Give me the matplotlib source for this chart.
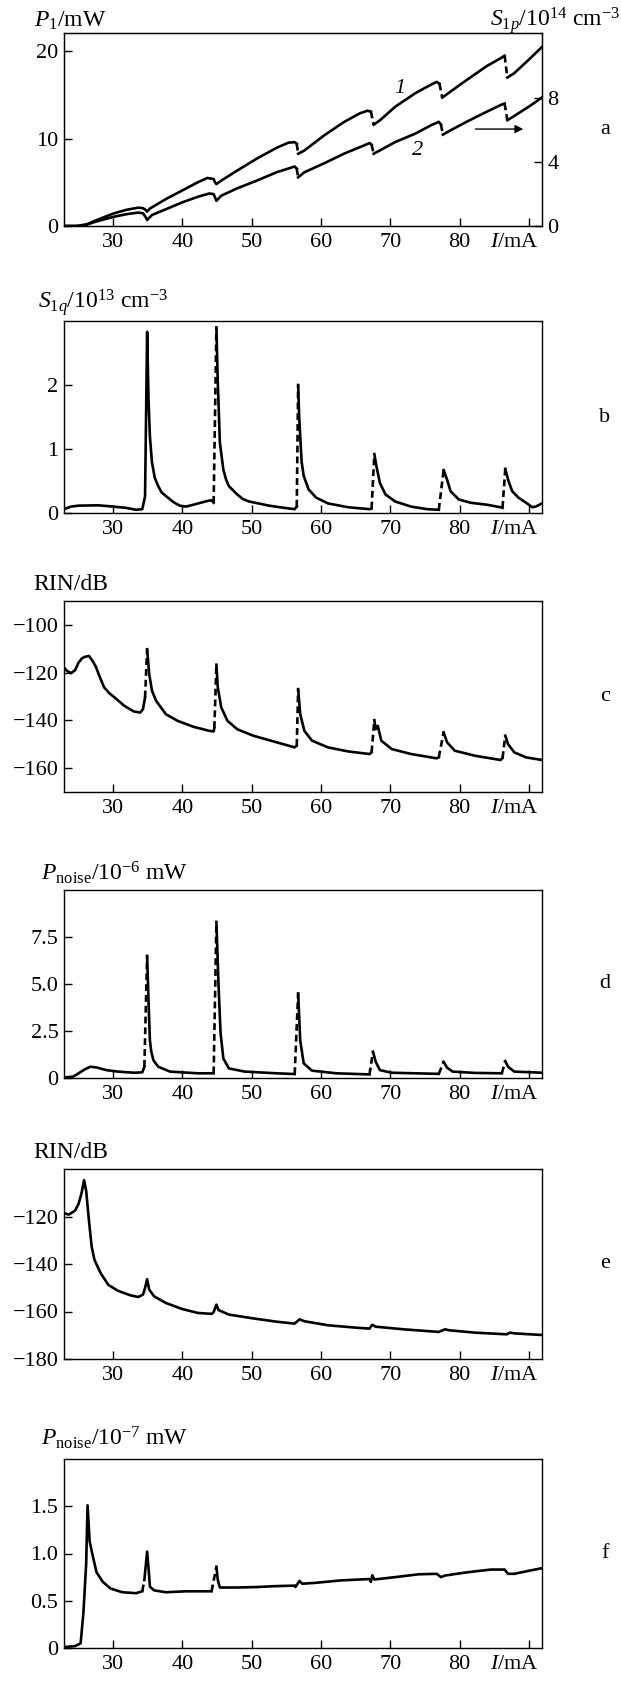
import numpy as np
import matplotlib
matplotlib.use("Agg")
import matplotlib.pyplot as plt

plt.rcParams["font.family"] = ["Liberation Serif", "DejaVu Serif"]
plt.rcParams["mathtext.fontset"] = "custom"
plt.rcParams["mathtext.rm"] = "Liberation Serif"
plt.rcParams["mathtext.it"] = "Liberation Serif:italic"
plt.rcParams["font.size"] = 16

# ---- data (I in mA) ----
# panel a, curve 1: P1 in mW (left axis)
a1_x = [22.9, 24.7, 26.2, 27.9, 30.0, 31.9, 33.6, 34.3, 34.6, 34.9, 35.3, 37.6, 39.9,
        42.2, 43.6, 44.5, 44.7, 44.9, 45.6, 47.9, 50.7, 53.6, 55.3, 56.2, 56.5, 56.7,
        57.6, 60.5, 63.3, 65.6, 66.7, 67.2, 67.6, 68.5, 70.7, 73.6, 75.9, 76.7, 77.1,
        77.5, 78.7, 81.0, 83.9, 85.9, 86.5, 86.9, 87.9, 90.2, 91.9]
a1_y = [0, 0, 0.2, 0.77, 1.42, 1.85, 2.1, 2.04, 1.9, 1.65, 2.0, 3.08, 4.04,
        5.0, 5.5, 5.38, 5.0, 4.8, 5.2, 6.35, 7.7, 8.96, 9.54, 9.6, 9.42, 8.27,
        8.65, 10.4, 11.9, 12.9, 13.2, 13.1, 11.6, 12.1, 13.65, 15.2, 16.2, 16.5, 16.3,
        14.7, 15.4, 16.7, 18.3, 19.2, 19.5, 17.0, 17.5, 19.2, 20.5]
a1_jumps = [56.5, 67.2, 77.1, 86.5]

# panel a, curve 2: S1p in 1e14 cm^-3 (right axis)
a2_x = [22.9, 25.6, 27.3, 30.0, 31.9, 33.6, 34.3, 34.7, 34.9, 35.6, 37.6, 39.9, 42.2,
        43.9, 44.5, 44.9, 45.6, 47.9, 50.7, 53.6, 56.2, 56.5, 56.7, 57.6, 60.5, 63.3,
        66.2, 67.0, 67.3, 67.6, 68.5, 70.7, 73.6, 75.9, 77.0, 77.3, 77.6, 78.7, 81.0,
        83.9, 85.9, 86.5, 86.9, 87.9, 90.2, 91.9]
a2_y = [0, 0, 0.25, 0.57, 0.74, 0.84, 0.8, 0.55, 0.38, 0.69, 1.05, 1.47, 1.83,
        2.04, 2.0, 1.58, 1.9, 2.36, 2.84, 3.37, 3.73, 3.6, 3.05, 3.37, 3.94, 4.53,
        5.05, 5.2, 5.1, 4.53, 4.74, 5.26, 5.79, 6.32, 6.53, 6.37, 5.73, 6.0, 6.53,
        7.16, 7.58, 7.68, 6.63, 6.9, 7.54, 8.06]
a2_jumps = [56.5, 67.3, 77.3, 86.5]

# panel b: S1q in 1e13 cm^-3
b_x = [22.9, 23.9, 25.0, 27.9, 30.0, 31.9, 33.3, 34.2, 34.6, 34.9, 35.1, 35.3, 35.6,
       36.0, 36.5, 37.0, 37.9, 38.7, 39.6, 40.5, 41.6, 43.3, 44.2, 44.5, 44.9, 45.1,
       45.4, 45.9, 46.3, 46.7, 47.9, 48.7, 49.6, 52.5, 54.7, 56.2, 56.5, 56.7, 56.85,
       57.2, 57.5, 58.2, 59.3, 61.0, 63.9, 67.0, 67.3, 67.7, 68.0, 68.5, 69.3, 70.7,
       73.0, 75.3, 77.0, 77.7, 78.2, 78.7, 79.9, 81.6, 83.9, 85.9, 86.2, 86.6, 87.0,
       87.6, 88.5, 89.6, 90.5, 91.0, 91.9]
b_y = [0.06, 0.1, 0.115, 0.12, 0.1, 0.08, 0.05, 0.06, 0.26, 2.83, 1.78, 1.2, 0.79,
       0.55, 0.42, 0.32, 0.24, 0.17, 0.115, 0.1, 0.13, 0.18, 0.2, 0.16, 2.9, 2.04,
       1.1, 0.68, 0.52, 0.42, 0.29, 0.22, 0.18, 0.115, 0.08, 0.06, 0.1, 2.0, 1.5,
       0.8, 0.58, 0.37, 0.24, 0.15, 0.09, 0.06, 0.07, 0.92, 0.73, 0.47, 0.29, 0.18,
       0.1, 0.06, 0.05, 0.67, 0.52, 0.34, 0.21, 0.16, 0.13, 0.09, 0.08, 0.69, 0.52,
       0.34, 0.24, 0.16, 0.09, 0.1, 0.15]
b_jumps = [44.5, 56.5, 67.3, 77.0, 86.2]

# panel c: RIN in dB
c_x = [22.9, 23.3, 23.9, 24.5, 25.0, 25.5, 25.9, 26.5, 27.0, 27.5, 27.9, 28.3, 28.7,
       29.4, 30.2, 31.6, 33.0, 33.9, 34.3, 34.6, 34.9, 35.2, 35.6, 36.2, 37.6, 39.3,
       41.6, 43.9, 44.5, 44.6, 44.9, 45.1, 45.6, 46.5, 47.9, 50.2, 53.6, 56.2, 56.5,
       56.7, 57.0, 57.6, 58.7, 61.0, 63.9, 67.0, 67.3, 67.7, 67.9, 68.2, 68.7, 70.2,
       73.0, 76.7, 77.0, 77.7, 78.2, 79.3, 82.2, 85.9, 86.2, 86.6, 87.0, 87.9, 89.6,
       91.9]
c_y = [-117.9, -119.2, -120.2, -119.0, -115.8, -114.0, -113.4, -113.0, -115.0, -117.5,
       -120.6, -123.5, -126.2, -128.5, -130.4, -133.9, -136.3, -136.7, -135.3, -130.4,
       -110.2, -120.6, -127.6, -131.8, -137.4, -140.2, -142.7, -144.4, -144.6, -143.2,
       -116.7, -126.2, -134.6, -140.2, -143.7, -146.4, -149.2, -151.3, -150.6, -126.9,
       -137.4, -144.4, -148.5, -151.3, -153.0, -154.1, -153.4, -139.9, -143.7, -142.3,
       -148.5, -152.0, -154.1, -155.9, -155.5, -145.0, -149.2, -152.7, -154.8, -156.6,
       -155.8, -146.4, -150.0, -153.4, -155.5, -156.6]
c_jumps = [34.6, 44.6, 56.5, 67.3, 77.0, 86.2]

# panel d: P_noise in 1e-6 mW
d_x = [22.9, 24.2, 25.0, 25.9, 26.7, 27.6, 29.0, 30.7, 33.0, 34.2, 34.5, 34.9, 35.1,
       35.3, 35.5, 35.8, 36.5, 38.2, 42.2, 44.5, 44.9, 45.2, 45.5, 45.9, 46.7, 49.0,
       53.6, 56.2, 56.7, 57.0, 57.5, 58.7, 62.2, 67.0, 67.5, 67.9, 68.5, 70.2, 73.6,
       77.0, 77.7, 78.2, 79.0, 82.2, 86.1, 86.6, 87.0, 87.9, 91.9]
d_y = [0.03, 0.07, 0.25, 0.46, 0.6, 0.56, 0.42, 0.34, 0.28, 0.3, 0.6, 6.5, 4.1,
       2.0, 1.4, 0.95, 0.6, 0.34, 0.25, 0.25, 8.3, 5.0, 2.4, 1.04, 0.51, 0.34,
       0.25, 0.21, 4.5, 2.0, 0.78, 0.39, 0.25, 0.19, 1.4, 0.86, 0.42, 0.28, 0.25,
       0.22, 0.86, 0.55, 0.34, 0.27, 0.25, 0.9, 0.6, 0.34, 0.28]
d_jumps = [34.5, 44.5, 56.2, 67.0, 77.0, 86.1]

# panel e: RIN in dB
e_x = [22.9, 23.6, 24.5, 25.0, 25.4, 25.8, 26.1, 26.5, 26.9, 27.3, 28.2, 29.3, 30.7,
       32.5, 33.6, 34.3, 34.6, 34.9, 35.2, 35.9, 37.6, 39.9, 42.2, 44.2, 44.5, 44.9,
       45.2, 46.7, 50.2, 53.6, 56.2, 56.9, 57.6, 61.0, 65.0, 67.0, 67.4, 67.9, 71.9,
       77.0, 77.9, 78.5, 82.2, 86.8, 87.3, 87.9, 91.9]
e_y = [-118.6, -119.2, -117.5, -114.7, -110.6, -104.7, -109.2, -121.7, -132.8, -138.3,
       -143.9, -148.8, -151.3, -153.2, -153.9, -152.9, -150.1, -146.4, -150.8, -153.6,
       -156.4, -158.9, -160.6, -161.0, -160.3, -157.1, -159.4, -161.3, -162.9, -164.3,
       -165.1, -163.3, -164.1, -165.8, -166.8, -167.2, -165.6, -166.4, -167.5, -168.6,
       -167.5, -167.9, -168.9, -169.6, -168.9, -169.2, -169.9]
e_jumps = []

# panel f: P_noise in 1e-7 mW
f_x = [22.9, 24.5, 25.3, 25.7, 26.1, 26.3, 26.6, 27.0, 27.6, 28.5, 29.6, 31.3, 33.3,
       34.2, 34.5, 34.9, 35.1, 35.3, 35.9, 37.6, 40.5, 44.2, 44.9, 45.1, 45.4, 47.9,
       50.7, 53.6, 56.2, 56.3, 56.9, 57.3, 59.3, 62.8, 67.0, 67.2, 67.4, 67.7, 70.7,
       74.1, 76.7, 77.3, 77.9, 81.0, 84.5, 86.5, 87.0, 87.9, 90.2, 91.9]
f_y = [0.01, 0.02, 0.05, 0.37, 0.89, 1.51, 1.13, 0.99, 0.8, 0.7, 0.63, 0.59, 0.58,
       0.6, 0.72, 1.02, 0.85, 0.65, 0.61, 0.59, 0.6, 0.6, 0.86, 0.72, 0.64, 0.64,
       0.645, 0.655, 0.66, 0.645, 0.71, 0.68, 0.69, 0.715, 0.73, 0.7, 0.77, 0.725, 0.75,
       0.78, 0.785, 0.75, 0.767, 0.8, 0.83, 0.83, 0.785, 0.785, 0.82, 0.845]
f_jumps = [34.2, 44.2]

x_ticks = [30, 40, 50, 60, 70, 80, 90]
x_ticklabels = ["30", "40", "50", "60", "70", "80", ""]

# ---- layout (pixels) ----
W, H = 621, 1686
LEFT, RIGHT = 64, 542
fig = plt.figure(figsize=(W / 100, H / 100), dpi=100)

LW = 1.9
DASH = (0, (2.6, 1.5))


def new_axes(top, bottom):
    return fig.add_axes([LEFT / W, 1 - bottom / H, (RIGHT - LEFT) / W, (bottom - top) / H])


def draw(ax, x, y, jumps):
    x = np.asarray(x, dtype=float)
    y = np.asarray(y, dtype=float)
    idx = [int(np.argmin(np.abs(x - j))) for j in jumps]
    start = 0
    for i in idx:
        ax.plot(x[start:i + 1], y[start:i + 1], color="k", lw=LW, solid_joinstyle="round")
        ax.plot(x[i:i + 2], y[i:i + 2], color="k", lw=LW, ls=DASH)
        start = i + 1
    ax.plot(x[start:], y[start:], color="k", lw=LW, solid_joinstyle="round")


def style(ax, ylim, yticks, yticklabels):
    ax.set_xlim(22.9, 91.9)
    ax.set_ylim(*ylim)
    ax.set_xticks(x_ticks)
    ax.set_xticklabels(x_ticklabels)
    ax.set_yticks(yticks)
    ax.set_yticklabels(yticklabels)
    ax.tick_params(direction="in", length=6, width=1, top=False, right=False)
    ax.tick_params(axis="x", pad=5)
    ax.tick_params(axis="y", pad=4)
    for s in ax.spines.values():
        s.set_linewidth(1.0)
    ax.annotate("$I$/mA", xy=((514 - LEFT) / (RIGHT - LEFT), 0), xycoords="axes fraction",
                xytext=(0, -5), textcoords="offset points", ha="center", va="top")


def ylabel(x, baseline, text):
    fig.text(x / W, 1 - baseline / H, text, ha="left", va="baseline", fontsize=17)


def letter(top, bottom, s):
    fig.text(605 / W, 1 - (top + bottom) / 2 / H, s, ha="center", va="center")


# panel a
ax = new_axes(33, 226)
draw(ax, a1_x, a1_y, a1_jumps)
style(ax, (0, 22.1), [0, 10, 20], ["0", "10", "20"])
tw = ax.twinx()
draw(tw, a2_x, a2_y, a2_jumps)
tw.set_ylim(0, 12.1)
tw.set_yticks([0, 4, 8])
tw.set_yticklabels(["0", "4", "8"])
tw.tick_params(direction="in", length=6, width=1, pad=4, left=False)
ax.text(71.3, 15.8, "1", style="italic", ha="center", va="center")
ax.text(73.9, 8.65, "2", style="italic", ha="center", va="center")
ax.annotate("", xy=(89.6, 11.1), xytext=(81.9, 11.1),
            arrowprops=dict(arrowstyle="-|>", color="k", lw=1.0, mutation_scale=12))
ylabel(34, 27, "$P_1$/mW")
ylabel(490, 26, "$S_{1p}$/10$^{14}$ cm$^{-3}$")
letter(33, 226, "a")

# panel b
ax = new_axes(321, 513)
draw(ax, b_x, b_y, b_jumps)
style(ax, (0, 3.0), [0, 1, 2], ["0", "1", "2"])
ylabel(38, 308, "$S_{1q}$/10$^{13}$ cm$^{-3}$")
letter(321, 513, "b")

# panel c
ax = new_axes(601, 792)
draw(ax, c_x, c_y, c_jumps)
style(ax, (-170, -90), [-160, -140, -120, -100], ["\u2212160", "\u2212140", "\u2212120", "\u2212100"])
ylabel(33, 590, "RIN/dB")
letter(601, 792, "c")

# panel d
ax = new_axes(890, 1078)
draw(ax, d_x, d_y, d_jumps)
style(ax, (0, 10), [0, 2.5, 5.0, 7.5], ["0", "2.5", "5.0", "7.5"])
ylabel(41, 880, "$P_{\\mathrm{noise}}$/10$^{-6}$ mW")
letter(890, 1078, "d")

# panel e
ax = new_axes(1169, 1359)
draw(ax, e_x, e_y, e_jumps)
style(ax, (-180, -100), [-180, -160, -140, -120], ["\u2212180", "\u2212160", "\u2212140", "\u2212120"])
ylabel(33, 1158, "RIN/dB")
letter(1169, 1359, "e")

# panel f
ax = new_axes(1459, 1648)
draw(ax, f_x, f_y, f_jumps)
style(ax, (0, 2.0), [0, 0.5, 1.0, 1.5], ["0", "0.5", "1.0", "1.5"])
ylabel(41, 1445, "$P_{\\mathrm{noise}}$/10$^{-7}$ mW")
letter(1459, 1648, "f")

fig.savefig("out.png", dpi=100)
